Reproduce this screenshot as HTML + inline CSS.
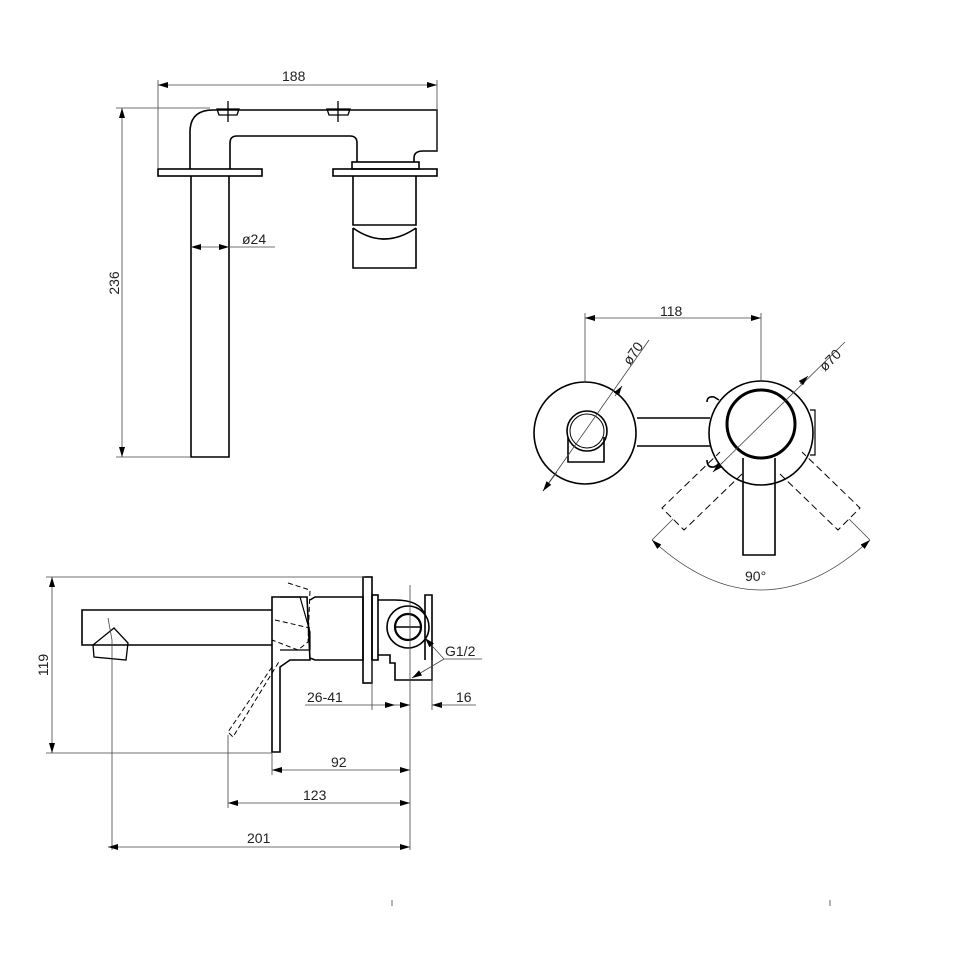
<!DOCTYPE html>
<html><head><meta charset="utf-8"><style>
html,body{margin:0;padding:0;background:#fff;width:954px;height:955px;overflow:hidden}
svg{display:block}
text{font-family:"Liberation Sans",sans-serif;font-size:14px;fill:#222}
</style></head><body>
<svg width="954" height="955" viewBox="0 0 954 955" xmlns="http://www.w3.org/2000/svg">
<defs>
<marker id="a" viewBox="0 0 10 6" refX="10" refY="3" markerWidth="10" markerHeight="6" orient="auto-start-reverse" markerUnits="userSpaceOnUse"><path d="M0,0 L10,3 L0,6z" fill="#000"/></marker>
</defs>
<g fill="none" stroke="#000" stroke-width="1.6">
<path d="M190,169 V132 Q190,110 213,110 H437 V151 H423 Q414,151 414,158 V162"/>
<path d="M230,169 V143 Q230,136 237,136 H350 Q357,136 357,143 V162"/>
<rect x="158" y="169" width="104" height="7"/>
<rect x="333" y="169" width="104" height="7"/>
<rect x="352" y="162" width="67" height="7"/>
<path d="M191,176 V457 H229 V176"/>
<path d="M353,176 V225 H416 V176"/>
<path d="M353,228 V268 H416 V228 M353,228 Q384,250 416,228"/>
<path d="M217,109 H239 L237,115 H219Z M327,109 H350 L348,115 H329Z" stroke-width="1.3"/>
<path d="M228,101 V122 M338,101 V122" stroke-width="1.3"/>
</g>
<g fill="none" stroke="#444" stroke-width="0.8">
<path d="M158,85 H437" marker-start="url(#a)" marker-end="url(#a)"/>
<path d="M158,80 V169 M437,80 V151"/>
<path d="M122,108 V457" marker-start="url(#a)" marker-end="url(#a)"/>
<path d="M116,108 H210 M116,457 H191"/>
<path d="M191,247 H229" marker-start="url(#a)" marker-end="url(#a)"/>
<path d="M229,247 H275"/>
</g>
<text x="282" y="81">188</text>
<text x="242" y="244">ø24</text>
<text transform="translate(119,283) rotate(-90)" text-anchor="middle">236</text>

<g fill="none" stroke="#000" stroke-width="1.6">
<circle cx="585" cy="433" r="51"/>
<circle cx="587" cy="431" r="20"/>
<circle cx="587" cy="431" r="17" stroke-width="1"/>
<path d="M568,437 V462 H604 V437"/>
<path d="M637,418 H710 M637,446 H710"/>
<path d="M707,402 Q707,396 714,397 L719,400 M707,460 Q707,468 714,467 L719,464"/>
<circle cx="761" cy="433" r="52"/>
<circle cx="761" cy="424" r="34" stroke-width="3"/>
<path d="M743,458 V555 H775 V458"/>
<path d="M810,410 H815 V455 H810" stroke-width="1.2"/>
</g>
<g fill="none" stroke="#000" stroke-width="1" stroke-dasharray="7,4">
<path d="M742,474 L684,530 L662,508 L720,452"/>
<path d="M780,474 L838,530 L860,508 L802,452"/>
</g>
<g fill="none" stroke="#444" stroke-width="0.8">
<path d="M585,318 H761" marker-start="url(#a)" marker-end="url(#a)"/>
<path d="M585,313 V382 M761,313 V382"/>
<path d="M543,491 L649,340"/>
<path d="M543,491 L557,472" marker-start="url(#a)"/>
<path d="M615,396 L622,386" marker-end="url(#a)"/>
<path d="M713,472 L845,342"/>
<path d="M713,472 L723,462" marker-start="url(#a)"/>
<path d="M800,384 L808,376" marker-end="url(#a)"/>
<path d="M652,540 L673,519 M870,540 L849,519"/>
<path d="M652,540 Q761,640 870,540" marker-start="url(#a)" marker-end="url(#a)"/>
</g>
<text x="660" y="316">118</text>
<text transform="translate(630,366) rotate(-55)">ø70</text>
<text transform="translate(825,372) rotate(-45)">ø70</text>
<text x="745" y="581">90°</text>

<g fill="none" stroke="#000" stroke-width="1.6">
<path d="M272,610 H82 V645 H272"/>
<path d="M93,645 L114,628 L128,643 L126,660 L94,657Z" stroke-width="1.3"/>
<path d="M272,597 V752 H280 V667 L290,660 H310 L307,597Z"/>
<path d="M280,597 L300,597 L310,632 L310,650 L280,650" stroke-width="1.2"/>
<path d="M310,600 L315,597 H363 V660 H315 L310,658"/>
<rect x="363" y="577" width="9" height="106"/>
<rect x="372" y="595" width="6" height="65"/>
<path d="M378,600 H395 Q420,600 425,615 M378,655 H390 V663 H395 V680 H432 V595 H425 V660"/>
<circle cx="408" cy="627" r="21"/>
<circle cx="408" cy="627" r="13" stroke-width="2.2"/>
<path d="M396,627 H420"/>
</g>
<g fill="none" stroke="#000" stroke-width="1" stroke-dasharray="5,3">
<path d="M288,583 L310,590 L308,642 L298,650 L272,640 M275,620 L310,628"/>
<path d="M272,667 L228,732 L233,737 L280,660"/>
</g>
<g fill="none" stroke="#444" stroke-width="0.8">
<path d="M52,577 V753" marker-start="url(#a)" marker-end="url(#a)"/>
<path d="M46,577 H365 M46,753 H272"/>
<path d="M108,618 L112,640 V850"/>
<path d="M108,847 H410" marker-start="url(#a)" marker-end="url(#a)"/>
<path d="M228,735 V808"/>
<path d="M228,803 H410" marker-start="url(#a)" marker-end="url(#a)"/>
<path d="M272,753 V775"/>
<path d="M272,770 H410" marker-start="url(#a)" marker-end="url(#a)"/>
<path d="M410,585 V850"/>
<path d="M372,660 V710 M432,660 V710"/>
<path d="M305,705 H372 M372,705 H395" marker-end="url(#a)"/>
<path d="M395,705 H410" marker-end="url(#a)"/>
<path d="M440,705 H432" marker-end="url(#a)"/>
<path d="M440,705 H476"/>
<path d="M444,659 H482"/>
<path d="M444,659 L425,638" marker-end="url(#a)"/>
<path d="M444,659 L412,678" marker-end="url(#a)"/>
<path d="M392,900 V906 M830,900 V906"/>
</g>
<text transform="translate(48,665) rotate(-90)" text-anchor="middle">119</text>
<text x="307" y="702">26-41</text>
<text x="456" y="702">16</text>
<text x="445" y="656">G1/2</text>
<text x="331" y="767">92</text>
<text x="303" y="800">123</text>
<text x="247" y="843">201</text>
</svg>
</body></html>
